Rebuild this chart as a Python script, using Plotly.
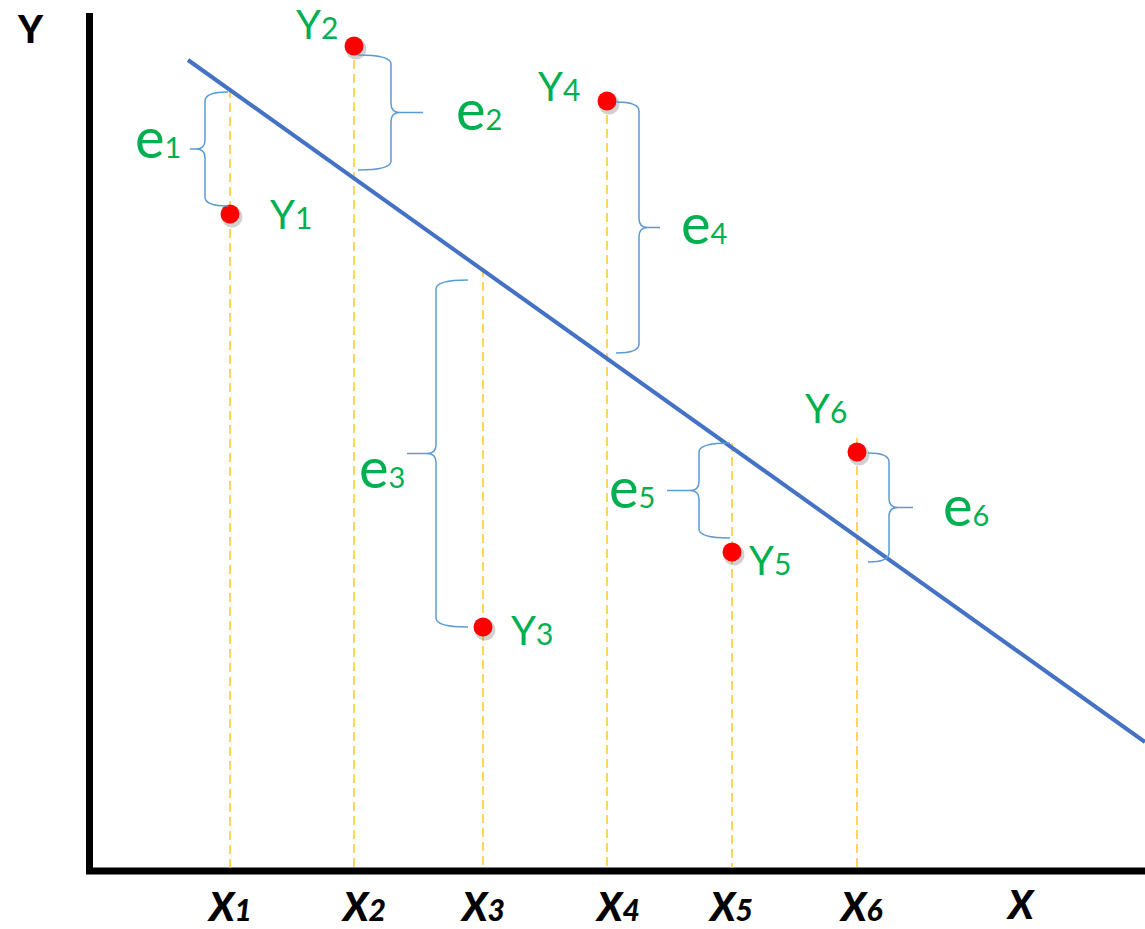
import plotly.graph_objects as go

# ---- data (diagram units: x to the right, y downward as in the picture) ----
labels = ["1", "2", "3", "4", "5", "6"]
x_pos = [230, 354, 483, 607, 732, 857]          # X1..X6
y_obs = [214, 46, 627, 101, 552, 452]           # observed Y1..Y6
dash_top = [89, 46, 268, 101, 443, 438]         # top of each dashed drop line
axis_y = 868                                    # baseline of the X axis
reg_x = [188, 1145]
reg_y = [60, 742]

# braces: arm-end x, spine x, tip x, top y, bottom y
brace_arm = [228, 358, 468, 616, 730, 868]
brace_spine = [205, 391, 436, 639, 699, 889]
brace_tip = [190, 423, 407, 660, 667, 913]
brace_top = [92, 55, 280, 102, 443, 453]
brace_bot = [206, 170, 627, 353, 538, 562]

# label positions
ylab_x = [291, 317, 532, 559, 770, 826]
ylab_y = [214, 24, 630, 86, 560, 408]
elab_x = [158, 479, 382, 704, 632, 966]
elab_y = [136, 108, 466, 222, 486, 504]
xlab_x = [229, 363, 482, 617, 730, 861]

GREEN = "#00B050"
FONT = "Lato"

fig = go.Figure()

# axes
fig.add_trace(go.Scatter(x=[89.5, 89.5], y=[13, 874], mode="lines",
                         line=dict(color="black", width=7), hoverinfo="skip"))
fig.add_trace(go.Scatter(x=[86, 1145], y=[871, 871], mode="lines",
                         line=dict(color="black", width=7), hoverinfo="skip"))

# dashed drop lines
for xp, yt in zip(x_pos, dash_top):
    fig.add_trace(go.Scatter(x=[xp, xp], y=[yt, axis_y], mode="lines",
                             line=dict(color="#FFC000", width=1.3, dash="9px,5px"),
                             hoverinfo="skip"))

# regression line
fig.add_trace(go.Scatter(x=reg_x, y=reg_y, mode="lines",
                         line=dict(color="#4472C4", width=4), hoverinfo="skip"))

# braces
for xa, xs, xt, yt, yb in zip(brace_arm, brace_spine, brace_tip, brace_top, brace_bot):
    ym = (yt + yb) / 2
    r = 9
    d = 1 if xs > xa else -1
    path = (f"M {xa},{yt} Q {xs},{yt} {xs},{yt + r} "
            f"L {xs},{ym - r} Q {xs},{ym} {xs + d * r},{ym} L {xt},{ym} "
            f"M {xs + d * r},{ym} Q {xs},{ym} {xs},{ym + r} "
            f"L {xs},{yb - r} Q {xs},{yb} {xa},{yb}")
    fig.add_shape(type="path", path=path, xref="x", yref="y",
                  line=dict(color="#5B9BD5", width=1.5))

# points with a soft shadow
fig.add_trace(go.Scatter(x=[v + 2 for v in x_pos], y=[v + 3 for v in y_obs], mode="markers",
                         marker=dict(size=21, color="rgba(0,0,0,0.18)", line=dict(width=0)),
                         hoverinfo="skip"))
fig.add_trace(go.Scatter(x=x_pos, y=y_obs, mode="markers",
                         marker=dict(size=19, color="#FF0000", line=dict(width=0)),
                         hoverinfo="skip"))

# labels
for lab, lx, ly in zip(labels, ylab_x, ylab_y):
    fig.add_annotation(x=lx, y=ly, text=f"Y<span style='font-size:30px'>{lab}</span>",
                       showarrow=False, font=dict(family=FONT, size=40, color=GREEN),
                       xanchor="center", yanchor="middle")
for lab, lx, ly in zip(labels, elab_x, elab_y):
    fig.add_annotation(x=lx, y=ly, text=f"e<span style='font-size:29px'>{lab}</span>",
                       showarrow=False, font=dict(family=FONT, size=56, color=GREEN),
                       xanchor="center", yanchor="middle")
for lab, lx in zip(labels, xlab_x):
    fig.add_annotation(x=lx, y=906, text=f"<i>X<span style='font-size:30px'>{lab}</span></i>",
                       showarrow=False, font=dict(family=FONT, size=40, color="black", weight=900),
                       xanchor="center", yanchor="middle")
fig.add_annotation(x=1020, y=929, text="<i>X</i>", showarrow=False,
                   font=dict(family=FONT, size=40, color="black", weight=900),
                   xanchor="center", yanchor="bottom", borderpad=0)
fig.add_annotation(x=30, y=28, text="Y", showarrow=False,
                   font=dict(family=FONT, size=38, color="black", weight=900),
                   xanchor="center", yanchor="middle")

fig.update_layout(
    width=1145, height=929,
    margin=dict(l=0, r=0, t=0, b=0),
    paper_bgcolor="white", plot_bgcolor="white",
    showlegend=False,
    xaxis=dict(range=[0, 1145], visible=False, fixedrange=True),
    yaxis=dict(range=[929, 0], visible=False, fixedrange=True),
)

fig.write_html("out.html", config={"displayModeBar": False},
               post_script="document.body.style.margin='0';document.body.style.overflow='hidden';")
